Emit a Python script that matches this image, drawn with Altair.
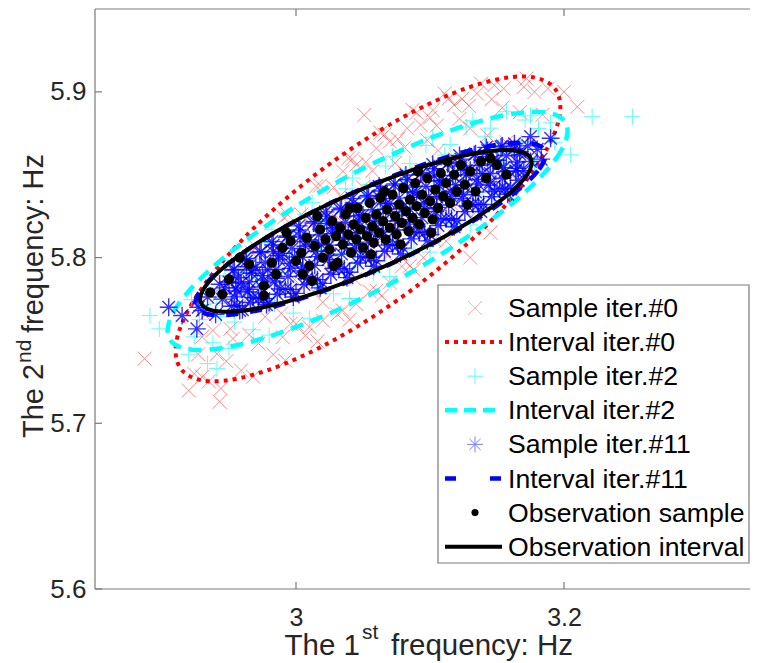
import altair as alt
import pandas as pd

# ---------------- data ----------------
X_TICKS = [3.0, 3.2]
Y_TICKS = [5.6, 5.7, 5.8, 5.9]
X_DOMAIN = [2.85, 3.3388]
Y_DOMAIN = [5.6, 5.95]

SAMPLE0 = [
    (2.920, 5.7198), (2.924, 5.7300), (2.927, 5.7416), (2.930, 5.7522),
    (2.932, 5.7654), (2.935, 5.7253), (2.938, 5.7560), (2.941, 5.7419), (2.943, 5.7779),
    (2.944, 5.7210), (2.948, 5.7375), (2.951, 5.7570), (2.954, 5.7747), (2.946, 5.7840), (2.953, 5.7511),
    (2.956, 5.7884), (2.959, 5.7319), (2.962, 5.7739), (2.965, 5.7535), (2.967, 5.8031), (2.961, 5.7853),
    (2.968, 5.7281), (2.972, 5.7481), (2.975, 5.7719), (2.978, 5.7935), (2.970, 5.8063), (2.977, 5.7643),
    (2.980, 5.8080), (2.983, 5.7415), (2.986, 5.7904), (2.989, 5.7663), (2.991, 5.8241), (2.985, 5.8040),
    (2.992, 5.7378), (2.996, 5.7601), (2.999, 5.7867), (3.002, 5.8108), (2.994, 5.8258), (3.001, 5.7780),
    (3.004, 5.8260), (3.007, 5.7530), (3.010, 5.8064), (3.013, 5.7798), (3.015, 5.8430), (3.009, 5.8213),
    (3.016, 5.7494), (3.020, 5.7730), (3.023, 5.8014), (3.026, 5.8271), (3.018, 5.8435), (3.025, 5.7919),
    (3.028, 5.8424), (3.031, 5.7657), (3.034, 5.8216), (3.037, 5.7937), (3.039, 5.8599), (3.033, 5.8373),
    (3.040, 5.7625), (3.044, 5.7868), (3.047, 5.8159), (3.050, 5.8424), (3.042, 5.8594), (3.049, 5.8062),
    (3.052, 5.8576), (3.055, 5.7796), (3.058, 5.8364), (3.061, 5.8079), (3.063, 5.8753), (3.057, 5.8523),
    (3.064, 5.7769), (3.068, 5.8013), (3.071, 5.8305), (3.074, 5.8571), (3.066, 5.8742), (3.073, 5.8208),
    (3.076, 5.8715), (3.079, 5.7946), (3.082, 5.8507), (3.085, 5.8226), (3.087, 5.8891), (3.081, 5.8664),
    (3.088, 5.7927), (3.092, 5.8165), (3.095, 5.8450), (3.098, 5.8708), (3.090, 5.8874), (3.097, 5.8355),
    (3.100, 5.8844), (3.103, 5.8108), (3.106, 5.8646), (3.109, 5.8378), (3.111, 5.8990), (3.105, 5.8796),
    (3.112, 5.8099), (3.116, 5.8324), (3.119, 5.8593), (3.122, 5.8837), (3.114, 5.8960), (3.121, 5.8505),
    (3.124, 5.8958), (3.127, 5.8282), (3.130, 5.8779), (3.133, 5.8533), (3.129, 5.8916),
    (3.136, 5.8288), (3.140, 5.8492), (3.143, 5.8736), (3.146, 5.8956), (3.138, 5.9050),
    (3.148, 5.9040), (3.151, 5.8473), (3.154, 5.8904), (3.157, 5.8695),
    (3.160, 5.8504), (3.164, 5.8675), (3.167, 5.8877), (3.170, 5.9030),
    (3.172, 5.9080), (3.175, 5.8691), (3.178, 5.9000),
    (3.184, 5.8862), (3.188, 5.9020),
    (2.887, 5.739), (2.943, 5.713), (2.930, 5.728), (3.051, 5.886),
    (3.210, 5.891), (3.200, 5.900), (3.145, 5.815), (3.130, 5.800),
    (3.035, 5.852), (3.060, 5.866), (3.083, 5.878), (3.102, 5.889), (3.118, 5.892),
    (3.045, 5.856), (3.070, 5.870), (3.093, 5.880), (3.135, 5.899), (3.155, 5.902),
    (3.000, 5.760), (3.020, 5.762), (3.045, 5.772), (3.070, 5.785), (3.095, 5.800),
    (2.990, 5.752), (3.010, 5.758), (3.035, 5.768), (3.060, 5.780), (3.085, 5.795),
]

SAMPLE2 = [
    (2.920, 5.7417), (2.924, 5.7522), (2.928, 5.7625), (2.931, 5.7717), (2.922, 5.7746),
    (2.935, 5.7805), (2.938, 5.7486), (2.941, 5.7724), (2.944, 5.7643), (2.947, 5.7893),
    (2.950, 5.7452), (2.954, 5.7611), (2.958, 5.7768), (2.961, 5.7909), (2.952, 5.7981),
    (2.965, 5.7991), (2.968, 5.7564), (2.971, 5.7876), (2.974, 5.7764), (2.977, 5.8091),
    (2.980, 5.7532), (2.984, 5.7719), (2.988, 5.7906), (2.991, 5.8072), (2.982, 5.8168),
    (2.995, 5.8154), (2.998, 5.7665), (3.001, 5.8019), (3.004, 5.7889), (3.007, 5.8261),
    (3.010, 5.7634), (3.014, 5.7839), (3.018, 5.8042), (3.021, 5.8224), (3.012, 5.8333),
    (3.025, 5.8304), (3.028, 5.7781), (3.031, 5.8158), (3.034, 5.8019), (3.037, 5.8415),
    (3.040, 5.7753), (3.044, 5.7965), (3.048, 5.8176), (3.051, 5.8364), (3.042, 5.8480),
    (3.055, 5.8441), (3.058, 5.7908), (3.061, 5.8292), (3.064, 5.8149), (3.067, 5.8553),
    (3.070, 5.7885), (3.074, 5.8097), (3.078, 5.8308), (3.081, 5.8496), (3.072, 5.8612),
    (3.085, 5.8567), (3.088, 5.8046), (3.091, 5.8421), (3.094, 5.8283), (3.097, 5.8677),
    (3.100, 5.8033), (3.104, 5.8236), (3.108, 5.8438), (3.111, 5.8619), (3.102, 5.8727),
    (3.115, 5.8682), (3.118, 5.8197), (3.121, 5.8548), (3.124, 5.8420), (3.127, 5.8788),
    (3.130, 5.8197), (3.134, 5.8383), (3.138, 5.8568), (3.141, 5.8732), (3.132, 5.8826),
    (3.145, 5.8781), (3.148, 5.8362), (3.151, 5.8668), (3.154, 5.8559), (3.157, 5.8880),
    (3.160, 5.8385), (3.164, 5.8540), (3.168, 5.8693), (3.171, 5.8830),
    (3.175, 5.8855), (3.178, 5.8552), (3.181, 5.8779),
    (3.190, 5.8813), (3.193, 5.8696),
    (3.221, 5.885), (3.251, 5.885), (2.891, 5.765), (2.898, 5.757),
    (2.934, 5.736), (2.941, 5.733), (3.205, 5.862),
]

SAMPLE11 = [
    (2.930, 5.7680), (2.934, 5.7762), (2.927, 5.7700),
    (2.940, 5.7657), (2.943, 5.7839), (2.945, 5.7749), (2.947, 5.7817),
    (2.950, 5.7853), (2.952, 5.7706), (2.954, 5.7928), (2.956, 5.7798), (2.958, 5.7681), (2.959, 5.7847),
    (2.960, 5.7685), (2.963, 5.7945), (2.965, 5.7809), (2.967, 5.7905), (2.962, 5.7994), (2.968, 5.7758),
    (2.970, 5.7942), (2.972, 5.7752), (2.974, 5.8035), (2.976, 5.7865), (2.978, 5.7715), (2.979, 5.7926),
    (2.980, 5.7729), (2.983, 5.8037), (2.985, 5.7875), (2.987, 5.7988), (2.982, 5.8097), (2.988, 5.7811),
    (2.990, 5.8026), (2.992, 5.7808), (2.994, 5.8130), (2.996, 5.7935), (2.998, 5.7762), (2.999, 5.8003),
    (3.000, 5.7784), (3.003, 5.8124), (3.005, 5.7943), (3.007, 5.8068), (3.002, 5.8191), (3.008, 5.7872),
    (3.010, 5.8106), (3.012, 5.7869), (3.014, 5.8217), (3.016, 5.8006), (3.018, 5.7817), (3.019, 5.8078),
    (3.020, 5.7844), (3.023, 5.8205), (3.025, 5.8012), (3.027, 5.8144), (3.022, 5.8276), (3.028, 5.7935),
    (3.030, 5.8182), (3.032, 5.7934), (3.034, 5.8298), (3.036, 5.8076), (3.038, 5.7879), (3.039, 5.8151),
    (3.040, 5.7911), (3.043, 5.8283), (3.045, 5.8083), (3.047, 5.8219), (3.042, 5.8356), (3.048, 5.8004),
    (3.050, 5.8257), (3.052, 5.8004), (3.054, 5.8375), (3.056, 5.8149), (3.058, 5.7948), (3.059, 5.8225),
    (3.060, 5.7981), (3.063, 5.8356), (3.065, 5.8155), (3.067, 5.8292), (3.062, 5.8430), (3.068, 5.8075),
    (3.070, 5.8328), (3.072, 5.8077), (3.074, 5.8445), (3.076, 5.8221), (3.078, 5.8022), (3.079, 5.8297),
    (3.080, 5.8057), (3.083, 5.8425), (3.085, 5.8228), (3.087, 5.8363), (3.082, 5.8498), (3.088, 5.8150),
    (3.090, 5.8398), (3.092, 5.8154), (3.094, 5.8513), (3.096, 5.8295), (3.098, 5.8101), (3.099, 5.8369),
    (3.100, 5.8138), (3.103, 5.8492), (3.105, 5.8303), (3.107, 5.8433), (3.102, 5.8562), (3.108, 5.8228),
    (3.110, 5.8465), (3.112, 5.8235), (3.114, 5.8574), (3.116, 5.8368), (3.118, 5.8186), (3.119, 5.8439),
    (3.120, 5.8225), (3.123, 5.8553), (3.125, 5.8379), (3.127, 5.8499), (3.122, 5.8616), (3.128, 5.8311),
    (3.130, 5.8528), (3.132, 5.8321), (3.134, 5.8627), (3.136, 5.8443), (3.138, 5.8278), (3.139, 5.8507),
    (3.140, 5.8320), (3.143, 5.8609), (3.145, 5.8457), (3.147, 5.8564), (3.142, 5.8665), (3.148, 5.8399),
    (3.150, 5.8587), (3.152, 5.8414), (3.154, 5.8673), (3.156, 5.8519), (3.158, 5.8382),
    (3.160, 5.8425), (3.163, 5.8656), (3.165, 5.8538), (3.167, 5.8623),
    (3.170, 5.8524), (3.173, 5.8674), (3.175, 5.8580),
    (3.180, 5.8653), (3.183, 5.8594),
    (2.956, 5.7709), (2.954, 5.7763), (2.955, 5.7817), (2.957, 5.7878), (2.953, 5.7925),
    (2.966, 5.7729), (2.964, 5.7792), (2.965, 5.7854), (2.967, 5.7925), (2.963, 5.7979),
    (2.976, 5.7753), (2.974, 5.7822), (2.975, 5.7891), (2.977, 5.7970), (2.973, 5.8029),
    (2.986, 5.7779), (2.984, 5.7853), (2.985, 5.7928), (2.987, 5.8012), (2.983, 5.8076),
    (2.996, 5.7808), (2.994, 5.7886), (2.995, 5.7965), (2.997, 5.8055), (2.993, 5.8123),
    (3.006, 5.7837), (3.004, 5.7919), (3.005, 5.8002), (3.007, 5.8096), (3.003, 5.8166),
    (3.016, 5.7867), (3.014, 5.7953), (3.015, 5.8038), (3.017, 5.8136), (3.013, 5.8209),
    (3.026, 5.7899), (3.024, 5.7987), (3.025, 5.8075), (3.027, 5.8175), (3.023, 5.8250),
    (3.036, 5.7932), (3.034, 5.8021), (3.035, 5.8111), (3.037, 5.8213), (3.033, 5.8289),
    (3.046, 5.7967), (3.044, 5.8058), (3.045, 5.8148), (3.047, 5.8251), (3.043, 5.8329),
    (3.056, 5.8002), (3.054, 5.8093), (3.055, 5.8184), (3.057, 5.8288), (3.053, 5.8366),
    (3.066, 5.8038), (3.064, 5.8129), (3.065, 5.8220), (3.067, 5.8324), (3.063, 5.8402),
    (3.076, 5.8075), (3.074, 5.8166), (3.075, 5.8256), (3.077, 5.8359), (3.073, 5.8437),
    (3.086, 5.8113), (3.084, 5.8202), (3.085, 5.8292), (3.087, 5.8394), (3.083, 5.8470),
    (3.096, 5.8153), (3.094, 5.8241), (3.095, 5.8329), (3.097, 5.8429), (3.093, 5.8504),
    (3.106, 5.8193), (3.104, 5.8278), (3.105, 5.8364), (3.107, 5.8462), (3.103, 5.8536),
    (3.116, 5.8234), (3.114, 5.8317), (3.115, 5.8400), (3.117, 5.8495), (3.113, 5.8566),
    (3.126, 5.8277), (3.124, 5.8356), (3.125, 5.8435), (3.127, 5.8526), (3.123, 5.8594),
    (3.136, 5.8321), (3.134, 5.8396), (3.135, 5.8471), (3.137, 5.8556), (3.133, 5.8621),
    (3.146, 5.8368), (3.144, 5.8437), (3.145, 5.8507), (3.147, 5.8587), (3.143, 5.8646),
    (3.156, 5.8416), (3.154, 5.8479), (3.155, 5.8542), (3.157, 5.8614), (3.153, 5.8668),
    (3.166, 5.8467), (3.164, 5.8522), (3.165, 5.8577), (3.167, 5.8640), (3.163, 5.8687),
    (2.905, 5.770), (2.926, 5.757), (2.915, 5.765), (3.190, 5.872), (3.175, 5.873),
]

OBSERVATION = [
    (2.936, 5.779), (2.950, 5.787), (2.965, 5.796), (2.976, 5.783), (2.976, 5.777), (2.982, 5.797),
    (2.990, 5.806), (2.996, 5.810), (3.000, 5.798), (3.004, 5.803), (3.008, 5.812), (3.010, 5.795),
    (3.014, 5.807), (3.018, 5.817), (3.020, 5.800), (3.022, 5.811), (3.025, 5.805), (3.027, 5.822),
    (3.030, 5.813), (3.031, 5.797), (3.033, 5.818), (3.035, 5.808), (3.037, 5.826), (3.039, 5.814),
    (3.041, 5.803), (3.043, 5.820), (3.045, 5.811), (3.046, 5.830), (3.048, 5.817), (3.050, 5.806),
    (3.052, 5.824), (3.053, 5.813), (3.055, 5.833), (3.057, 5.819), (3.058, 5.809), (3.060, 5.826),
    (3.062, 5.815), (3.063, 5.836), (3.065, 5.822), (3.067, 5.811), (3.068, 5.829), (3.070, 5.818),
    (3.072, 5.838), (3.074, 5.825), (3.075, 5.814), (3.077, 5.832), (3.079, 5.821), (3.080, 5.842),
    (3.082, 5.828), (3.084, 5.816), (3.085, 5.835), (3.087, 5.824), (3.089, 5.845), (3.090, 5.831),
    (3.092, 5.820), (3.094, 5.838), (3.096, 5.827), (3.098, 5.848), (3.100, 5.834), (3.102, 5.823),
    (3.104, 5.841), (3.106, 5.830), (3.108, 5.851), (3.110, 5.837), (3.112, 5.845), (3.115, 5.833),
    (3.118, 5.850), (3.120, 5.840), (3.123, 5.856), (3.126, 5.844), (3.130, 5.852), (3.134, 5.840),
    (3.138, 5.858), (3.142, 5.848), (3.150, 5.856), (3.157, 5.850), (2.958, 5.800), (2.985, 5.790),
    (2.993, 5.815), (3.005, 5.790), (3.016, 5.825), (3.028, 5.795), (3.040, 5.830), (3.056, 5.802),
    (3.066, 5.840), (3.078, 5.808), (3.091, 5.852), (3.101, 5.815), (3.113, 5.858), (3.128, 5.832),
    (3.145, 5.860), (2.945, 5.778), (3.012, 5.786),
]

INTERVAL0 = [
    (3.1933, 5.9018), (3.1956, 5.8815), (3.1762, 5.8514), (3.1382, 5.8163),
    (3.0873, 5.7811), (3.0312, 5.7515), (2.9788, 5.7320), (2.9376, 5.7253),
    (2.9141, 5.7328), (2.9118, 5.7531), (2.9312, 5.7832), (2.9692, 5.8183),
    (3.0201, 5.8535), (3.0762, 5.8831), (3.1286, 5.9026), (3.1698, 5.9093),
]
INTERVAL2 = [
    (3.2012, 5.8813), (3.1980, 5.8647), (3.1727, 5.8408), (3.1293, 5.8132),
    (3.0743, 5.7859), (3.0161, 5.7632), (2.9637, 5.7486), (2.9248, 5.7443),
    (2.9056, 5.7509), (2.9088, 5.7675), (2.9341, 5.7914), (2.9775, 5.8190),
    (3.0325, 5.8463), (3.0907, 5.8690), (3.1431, 5.8836), (3.1820, 5.8879),
]
INTERVAL11 = [
    (3.1858, 5.8644), (3.1805, 5.8523), (3.1561, 5.8348), (3.1165, 5.8147),
    (3.0675, 5.7950), (3.0167, 5.7787), (2.9719, 5.7682), (2.9399, 5.7653),
    (2.9254, 5.7702), (2.9307, 5.7823), (2.9551, 5.7998), (2.9947, 5.8199),
    (3.0437, 5.8396), (3.0945, 5.8559), (3.1393, 5.8664), (3.1713, 5.8693),
]
INTERVAL_OBS = [
    (3.1753, 5.8596), (3.1705, 5.8478), (3.1476, 5.8313), (3.1103, 5.8124),
    (3.0641, 5.7940), (3.0161, 5.7790), (2.9736, 5.7697), (2.9431, 5.7674),
    (2.9291, 5.7726), (2.9339, 5.7844), (2.9568, 5.8009), (2.9941, 5.8198),
    (3.0403, 5.8382), (3.0883, 5.8532), (3.1308, 5.8625), (3.1613, 5.8648),
]

LEGEND_LABELS = [
    "Sample iter.#0", "Interval iter.#0", "Sample iter.#2", "Interval iter.#2",
    "Sample iter.#11", "Interval iter.#11", "Observation sample", "Observation interval",
]

# ---------------- styling ----------------
FONT = "Liberation Sans"
W, H = 655, 580
AXIS_GRAY = "#7a7a7a"
X_SHAPE = "M-1,-1L1,1M-1,1L1,-1"
PLUS_SHAPE = "M-1,0L1,0M0,-1L0,1"
STAR_SHAPE = "M-1,0L1,0M0,-1L0,1M-0.7,-0.7L0.7,0.7M-0.7,0.7L0.7,-0.7"


def pts(pairs):
    return pd.DataFrame(pairs, columns=["x", "y"])


def ell(pairs):
    df = pts(pairs)
    df["i"] = range(len(df))
    return df


one = pd.DataFrame({"a": [0]})

x_scale = alt.Scale(domain=X_DOMAIN, zero=False, nice=False)
y_scale = alt.Scale(domain=Y_DOMAIN, zero=False, nice=False)
x_axis = alt.Axis(values=X_TICKS, format="~g", domain=False, ticks=False, tickSize=0,
                  grid=False, labelFontSize=25, labelFont=FONT, labelColor="#262626",
                  labelPadding=16, title=None, labelFlush=False)
y_axis = alt.Axis(values=Y_TICKS, format="~g", domain=False, ticks=False, tickSize=0,
                  grid=False, labelFontSize=26, labelFont=FONT, labelColor="#262626",
                  labelPadding=9, title=None)


def X(field="x"):
    return alt.X(f"{field}:Q", scale=x_scale, axis=x_axis)


def Y(field="y"):
    return alt.Y(f"{field}:Q", scale=y_scale, axis=y_axis)


STYLE = {
    "s0": dict(shape=X_SHAPE, color="#FF0000", opacity=0.45, size=196, strokeWidth=1),
    "s2": dict(shape=PLUS_SHAPE, color="#00FFFF", opacity=0.65, size=256, strokeWidth=1),
    "s11": dict(shape=STAR_SHAPE, color="#0000FF", opacity=0.8, size=320, strokeWidth=1.4),
    "obs": dict(shape="circle", color="black", opacity=1, size=105, strokeWidth=0),
    "i0": dict(color="#FF0000", strokeWidth=4, strokeDash=[4, 5]),
    "i2": dict(color="#00FFFF", strokeWidth=4.5, strokeDash=[13, 8]),
    "i11": dict(color="#0000FF", strokeWidth=4.5, strokeDash=[12, 12]),
    "iobs": dict(color="black", strokeWidth=4),
}


def scatter(pairs, key, filled=False):
    return alt.Chart(pts(pairs)).mark_point(filled=filled, **STYLE[key]).encode(x=X(), y=Y())


def curve(pairs, key):
    return alt.Chart(ell(pairs)).mark_line(interpolate="cardinal-closed", **STYLE[key]).encode(
        x=X(), y=Y(), order=alt.Order("i:Q"))


data_layers = [
    scatter(SAMPLE0, "s0"),
    curve(INTERVAL0, "i0"),
    scatter(SAMPLE2, "s2"),
    curve(INTERVAL2, "i2"),
    scatter(SAMPLE11, "s11"),
    curve(INTERVAL11, "i11"),
    scatter(OBSERVATION, "obs", filled=True),
    curve(INTERVAL_OBS, "iobs"),
]

# frame (box) and inward ticks
xt = pd.DataFrame({"t": X_TICKS})
yt = pd.DataFrame({"t": Y_TICKS})
frame = [
    alt.Chart(one).mark_rule(color=AXIS_GRAY, strokeWidth=1.2).encode(
        x=alt.value(0), x2=alt.value(W), y=alt.value(0)),
    alt.Chart(one).mark_rule(color=AXIS_GRAY, strokeWidth=1.2).encode(
        x=alt.value(0), x2=alt.value(W), y=alt.value(H)),
    alt.Chart(one).mark_rule(color=AXIS_GRAY, strokeWidth=1.2).encode(
        x=alt.value(0), y=alt.value(0), y2=alt.value(H)),
    alt.Chart(xt).mark_rule(color=AXIS_GRAY, strokeWidth=1.2).encode(
        x=X("t"), y=alt.value(H), y2=alt.value(H - 7)),
    alt.Chart(xt).mark_rule(color=AXIS_GRAY, strokeWidth=1.2).encode(
        x=X("t"), y=alt.value(0), y2=alt.value(7)),
    alt.Chart(yt).mark_rule(color=AXIS_GRAY, strokeWidth=1.2).encode(
        y=Y("t"), x=alt.value(0), x2=alt.value(7)),
]

# legend (drawn by hand)
LX0, LX1, LY0, LY1 = 343, 654, 276, 554
legend = [alt.Chart(one).mark_rect(fill="white", stroke=AXIS_GRAY, strokeWidth=1.2).encode(
    x=alt.value(LX0), x2=alt.value(LX1), y=alt.value(LY0), y2=alt.value(LY1))]
keys = ["s0", "i0", "s2", "i2", "s11", "i11", "obs", "iobs"]
for i, (lab, key) in enumerate(zip(LEGEND_LABELS, keys)):
    ry = 299 + 34.1 * i
    if key.startswith("i"):
        st = dict(STYLE[key])
        if key == "i11":
            st["strokeDash"] = [11, 34]
        if key == "i2":
            st["strokeDash"] = [12, 7]
        legend.append(alt.Chart(one).mark_rule(**st).encode(
            x=alt.value(350), x2=alt.value(407), y=alt.value(ry)))
    else:
        st = dict(STYLE[key])
        if key == "obs":
            st["size"] = 50
        if key == "s0":
            st["opacity"] = 0.3
        if key == "s11":
            st["opacity"] = 0.5
            st["strokeWidth"] = 1
            st["size"] = 256
        legend.append(alt.Chart(one).mark_point(filled=(key == "obs"), **st).encode(
            x=alt.value(380), y=alt.value(ry)))
    legend.append(alt.Chart(one).mark_text(text=lab, align="left", baseline="middle",
                                           font=FONT, fontSize=26.6, color="black").encode(
        x=alt.value(413), y=alt.value(ry + 1)))


# axis titles with superscripts
def txt(s, x, y, size, angle=0, align="left"):
    kw = dict(text=s, align=align, baseline="alphabetic", font=FONT, fontSize=size,
              color="#262626")
    if angle:
        kw["angle"] = angle
    return alt.Chart(one).mark_text(**kw).encode(x=alt.value(x), y=alt.value(y))


titles = [
    txt("The 1", 265, 646, 29.5, align="right"),
    txt("st", 267, 630, 21),
    txt("frequency: Hz", 296, 646, 29.5),
    txt("The 2", -52, 429, 29, angle=270),
    txt("nd", -64, 354, 21, angle=270),
    txt("frequency: Hz", -52, 324, 29, angle=270),
]

chart = alt.layer(*data_layers, *frame, *legend, *titles).properties(
    width=W, height=H,
    autosize=alt.AutoSizeParams(type="none"),
    padding={"left": 87, "top": 1, "right": 0, "bottom": 74},
).configure_view(strokeWidth=0, stroke="transparent")

chart.save("out.html", embed_options={"renderer": "svg", "actions": False})
